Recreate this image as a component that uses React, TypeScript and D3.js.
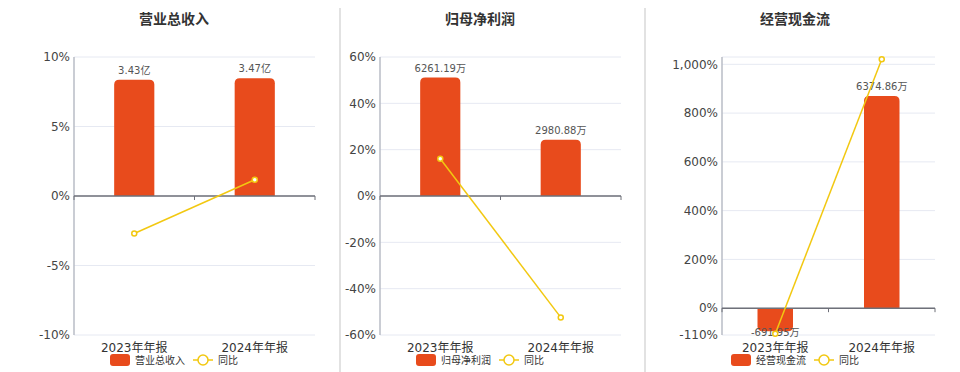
import React from "react";
import { scaleBand, scaleLinear, line } from "d3";

const categories = ["2023年年报", "2024年年报"];

const titles = ["营业总收入", "归母净利润", "经营现金流"];

const revenue = [3.43, 3.47];
const revenueLabels = ["3.43亿", "3.47亿"];
const revenueYoy = [-2.7, 1.17];
const revenueTicks = [10, 5, 0, -5, -10];

const profit = [6261.19, 2980.88];
const profitLabels = ["6261.19万", "2980.88万"];
const profitYoy = [16.1, -52.4];
const profitTicks = [60, 40, 20, 0, -20, -40, -60];

const cashflow = [-691.95, 6374.86];
const cashflowLabels = ["-691.95万", "6374.86万"];
const cashflowYoy = [-105, 1021];
const cashflowTicks = [1030, 1000, 800, 600, 400, 200, 0, -110];
const cashflowTickLabels = ["", "1,000%", "800%", "600%", "400%", "200%", "0%", "-110%"];

const BAR = "#e84b1c";
const LINE = "#f2c811";
const FONT = "'DejaVu Sans', 'Noto Sans CJK SC', sans-serif";

type PanelProps = {
  title: string;
  titleX: number;
  x0: number;
  x1: number;
  pctDomain: [number, number];
  barDomain: [number, number];
  ticks: number[];
  tickLabels?: string[];
  bars: number[];
  barLabels: string[];
  yoy: number[];
  legendX: number;
};

function Panel(p: PanelProps) {
  const top = 57;
  const bottom = 335;
  const x = scaleBand().domain(categories).range([p.x0, p.x1]);
  const y = scaleLinear().domain(p.pctDomain).range([bottom, top]);
  const yb = scaleLinear().domain(p.barDomain).range([bottom, top]);
  const zero = y(0);
  const bw = x.bandwidth() / 3;
  const r = 5;

  const barPath = (cx: number, v: number) => {
    const l = cx - bw / 2;
    const rr = l + bw;
    const yv = yb(v);
    if (v >= 0) {
      return `M${l},${zero}V${yv + r}Q${l},${yv} ${l + r},${yv}H${rr - r}Q${rr},${yv} ${rr},${yv + r}V${zero}Z`;
    }
    return `M${l},${zero}V${yv - r}Q${l},${yv} ${l + r},${yv}H${rr - r}Q${rr},${yv} ${rr},${yv - r}V${zero}Z`;
  };

  const pts: [number, number][] = p.yoy.map((v, i) => [x(categories[i])! + x.bandwidth() / 2, y(v)]);
  const path = line()(pts) ?? "";
  const ly = 360;

  return (
    <g fontFamily={FONT}>
      <text x={p.titleX} y={24} textAnchor="middle" fontSize={14} fontWeight="bold" fill="#333">
        {p.title}
      </text>

      {/* grid */}
      {p.ticks.map((t, i) => (
        <line key={i} x1={p.x0} x2={p.x1} y1={y(t)} y2={y(t)} stroke="#e6e9f2" strokeWidth={1} />
      ))}
      <line x1={p.x0} x2={p.x0} y1={top} y2={bottom} stroke="#b8bcc6" strokeWidth={1.5} />
      {p.ticks.map((t, i) => (
        <text key={i} x={p.x0 - 4} y={y(t)} dy="0.35em" textAnchor="end" fontSize={12} fill="#444">
          {p.tickLabels ? p.tickLabels[i] : `${t}%`}
        </text>
      ))}

      {/* bars */}
      {p.bars.map((v, i) => (
        <path key={i} d={barPath(x(categories[i])! + x.bandwidth() / 2, v)} fill={BAR} />
      ))}
      {p.bars.map((v, i) => (
        <text
          key={i}
          x={x(categories[i])! + x.bandwidth() / 2}
          y={v >= 0 ? yb(v) - 6 : yb(v) + 1}
          dy={v >= 0 ? 0 : "0.35em"}
          textAnchor="middle"
          fontSize={10}
          fill="#555"
        >
          {p.barLabels[i]}
        </text>
      ))}

      {/* category axis */}
      <line x1={p.x0} x2={p.x1} y1={zero} y2={zero} stroke="#6e7079" strokeWidth={1.5} />
      {[p.x0, p.x0 + x.bandwidth(), p.x1].map((tx, i) => (
        <line key={i} x1={tx} x2={tx} y1={zero} y2={zero + 4} stroke="#6e7079" strokeWidth={1} />
      ))}
      {categories.map((c) => (
        <text key={c} x={x(c)! + x.bandwidth() / 2} y={348} dy="0.35em" textAnchor="middle" fontSize={12} fill="#333">
          {c}
        </text>
      ))}

      {/* yoy line */}
      <path d={path} fill="none" stroke={LINE} strokeWidth={1.5} />
      {pts.map((pt, i) => (
        <circle key={i} cx={pt[0]} cy={pt[1]} r={2.5} fill="#fff" stroke={LINE} strokeWidth={1.5} />
      ))}

      {/* legend */}
      <rect x={p.legendX} y={ly - 6} width={20} height={12} rx={3} fill={BAR} />
      <text x={p.legendX + 25} y={ly} dy="0.35em" fontSize={10} fill="#333">
        {p.title}
      </text>
      <line x1={p.legendX + 83} x2={p.legendX + 103} y1={ly} y2={ly} stroke={LINE} strokeWidth={1.5} />
      <circle cx={p.legendX + 93} cy={ly} r={5} fill="#fff" stroke={LINE} strokeWidth={1.5} />
      <text x={p.legendX + 108} y={ly} dy="0.35em" fontSize={10} fill="#333">
        同比
      </text>
    </g>
  );
}

export default function App() {
  return (
    <svg width={960} height={372} style={{ position: "absolute", left: 0, top: 0, background: "#fff" }}>
      <line x1={340} x2={340} y1={8} y2={372} stroke="#d9d9d9" strokeWidth={1.5} />
      <line x1={645} x2={645} y1={8} y2={372} stroke="#d9d9d9" strokeWidth={1.5} />
      <Panel
        title={titles[0]}
        titleX={174}
        x0={74}
        x1={315}
        pctDomain={[-10, 10]}
        barDomain={[-4.1, 4.1]}
        ticks={revenueTicks}
        bars={revenue}
        barLabels={revenueLabels}
        yoy={revenueYoy}
        legendX={110}
      />
      <Panel
        title={titles[1]}
        titleX={480}
        x0={380}
        x1={621}
        pctDomain={[-60, 60]}
        barDomain={[-7350, 7350]}
        ticks={profitTicks}
        bars={profit}
        barLabels={profitLabels}
        yoy={profitYoy}
        legendX={416}
      />
      <Panel
        title={titles[2]}
        titleX={795}
        x0={722}
        x1={935}
        pctDomain={[-110, 1030]}
        barDomain={[-806, 7548]}
        ticks={cashflowTicks}
        tickLabels={cashflowTickLabels}
        bars={cashflow}
        barLabels={cashflowLabels}
        yoy={cashflowYoy}
        legendX={731}
      />
    </svg>
  );
}
